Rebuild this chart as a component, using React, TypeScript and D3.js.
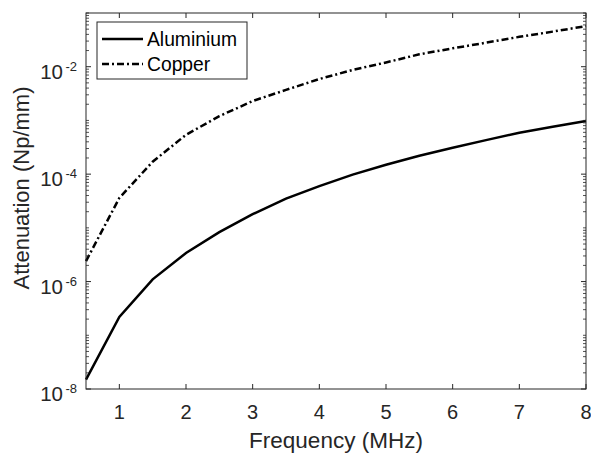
import { line, range, scaleLinear, scaleLog } from 'd3'

const frequencies = [0.5, 1, 1.5, 2, 2.5, 3, 3.5, 4, 4.5, 5, 5.5, 6, 6.5, 7, 7.5, 8]
const aluminium = [
  1.5e-8, 2.2e-7, 1.1e-6, 3.4e-6, 8.3e-6, 1.8e-5, 3.5e-5, 6.0e-5, 9.8e-5, 1.5e-4, 2.2e-4,
  3.1e-4, 4.3e-4, 5.9e-4, 7.6e-4, 9.8e-4,
]
const copper = [
  2.4e-6, 3.6e-5, 1.7e-4, 5.4e-4, 1.2e-3, 2.3e-3, 3.7e-3, 5.9e-3, 8.7e-3, 1.2e-2, 1.7e-2,
  2.2e-2, 2.8e-2, 3.6e-2, 4.5e-2, 5.7e-2,
]
const xTicks = [1, 2, 3, 4, 5, 6, 7, 8]
const yLabelExponents = [-8, -6, -4, -2]
const seriesNames = ['Aluminium', 'Copper']

const width = 591
const height = 455
const margin = { top: 13, right: 5, bottom: 66, left: 86 }
const axisColor = '#262626'
const font = '"Liberation Sans", Arial, Helvetica, sans-serif'

function App() {
  const innerWidth = width - margin.left - margin.right
  const innerHeight = height - margin.top - margin.bottom

  const xScale = scaleLinear().domain([0.5, 8]).range([0, innerWidth])
  const yScale = scaleLog().domain([1e-8, 1e-1]).range([innerHeight, 0])

  const makeLine = (values: number[]) =>
    line<number>()
      .x((_, i) => xScale(frequencies[i]))
      .y((d) => yScale(d))(values) ?? ''

  // minor ticks: 2..9 in every decade, plus the unlabeled decade ticks
  const minorTicks: number[] = []
  range(-8, -1).forEach((e) => {
    if (!yLabelExponents.includes(e)) minorTicks.push(Math.pow(10, e))
    range(2, 10).forEach((m) => minorTicks.push(m * Math.pow(10, e)))
  })
  if (!yLabelExponents.includes(-1)) minorTicks.push(1e-1)

  const legendX = 97 - margin.left
  const legendY = 22 - margin.top

  return (
    <svg
      width={width}
      height={height}
      viewBox={`0 0 ${width} ${height}`}
      style={{ position: 'absolute', left: 0, top: 0, background: '#fff' }}
      fontFamily={font}
    >
      <rect x={0} y={0} width={width} height={height} fill="#fff" />
      <g transform={`translate(${margin.left}, ${margin.top})`}>
        <path d={makeLine(aluminium)} fill="none" stroke="#000" strokeWidth={2.5} />
        <path
          d={makeLine(copper)}
          fill="none"
          stroke="#000"
          strokeWidth={2.5}
          strokeDasharray="7,3,2,3"
        />

        <rect
          x={0}
          y={0}
          width={innerWidth}
          height={innerHeight}
          fill="none"
          stroke={axisColor}
          strokeWidth={1}
        />

        {xTicks.map((tick) => {
          const x = xScale(tick)
          return (
            <g key={`x-${tick}`}>
              <line x1={x} x2={x} y1={innerHeight} y2={innerHeight - 5} stroke={axisColor} />
              <line x1={x} x2={x} y1={0} y2={5} stroke={axisColor} />
              <text
                x={x}
                y={innerHeight + 30}
                textAnchor="middle"
                fontSize={20}
                fill={axisColor}
              >
                {tick}
              </text>
            </g>
          )
        })}

        {minorTicks.map((tick, i) => {
          const y = yScale(tick)
          return (
            <g key={`minor-${i}`}>
              <line x1={0} x2={3} y1={y} y2={y} stroke={axisColor} strokeWidth={0.8} />
              <line
                x1={innerWidth}
                x2={innerWidth - 3}
                y1={y}
                y2={y}
                stroke={axisColor}
                strokeWidth={0.8}
              />
            </g>
          )
        })}

        {yLabelExponents.map((e) => {
          const y = yScale(Math.pow(10, e))
          return (
            <g key={`y-${e}`}>
              <line x1={0} x2={5} y1={y} y2={y} stroke={axisColor} />
              <line x1={innerWidth} x2={innerWidth - 5} y1={y} y2={y} stroke={axisColor} />
              <text x={-9} y={y + 4} textAnchor="end" fontSize={13} fill={axisColor}>
                {e}
              </text>
              <text x={-23} y={y + 12} textAnchor="end" fontSize={20.5} fill={axisColor}>
                10
              </text>
            </g>
          )
        })}

        <text
          x={innerWidth / 2}
          y={innerHeight + 59}
          textAnchor="middle"
          fontSize={22.5}
          fill={axisColor}
        >
          Frequency (MHz)
        </text>
        <text
          transform={`translate(${29 - margin.left}, ${188 - margin.top}) rotate(-90)`}
          textAnchor="middle"
          fontSize={22}
          fill={axisColor}
        >
          Attenuation (Np/mm)
        </text>

        <g transform={`translate(${legendX}, ${legendY})`}>
          <rect x={0} y={0} width={150} height={57} fill="#fff" stroke={axisColor} strokeWidth={1} />
          {seriesNames.map((name, i) => {
            const y = 17 + i * 25
            return (
              <g key={name}>
                <line
                  x1={5}
                  x2={46}
                  y1={y}
                  y2={y}
                  stroke="#000"
                  strokeWidth={2.5}
                  strokeDasharray={i === 1 ? '7,3,2,3' : undefined}
                />
                <text x={50} y={y + 7} fontSize={19.3} fill="#000">
                  {name}
                </text>
              </g>
            )
          })}
        </g>
      </g>
    </svg>
  )
}

export default App
